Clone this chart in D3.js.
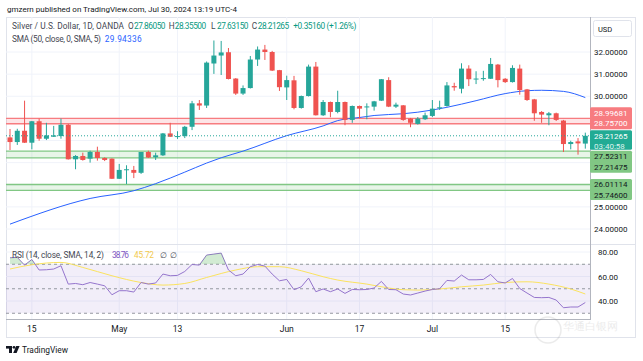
<!DOCTYPE html>
<html>
<head>
<meta charset="utf-8">
<script src="https://cdn.jsdelivr.net/npm/d3@7"></script>
<style>
  body { margin: 0; background: #fff; }
  text { font-family: Roboto, "Noto Sans", sans-serif; }
</style>
</head>
<body>
<svg id="chart" width="643" height="361"></svg>
<script>
// daily bars, Apr 10 - Jul 30 2024 (weekdays)
const dates = d3.timeDay.range(new Date(2024, 3, 10), new Date(2024, 6, 31))
  .filter(d => d.getDay() % 6 !== 0);

const open = [28.14,27.93,28.44,27.90,28.87,28.08,28.17,28.20,28.71,27.15,
  27.30,27.18,27.48,27.21,27.18,26.27,26.67,26.67,26.54,27.48,
  27.24,27.33,28.32,28.18,28.20,28.62,29.68,29.58,31.48,31.84,
  31.99,30.80,30.12,30.37,31.66,32.11,32.00,31.18,30.40,30.72,
  29.47,30.01,31.34,29.14,29.74,29.29,29.74,28.93,29.56,29.51,
  29.53,29.80,30.73,29.53,29.59,28.99,28.75,28.96,29.11,29.47,
  29.56,30.46,30.34,31.25,30.78,30.81,30.79,31.43,30.79,30.64,
  31.25,30.31,29.86,29.29,29.14,29.23,28.90,27.84,27.96,27.8605];
const high = [28.52,28.53,29.80,28.88,28.99,28.80,28.66,28.99,28.75,27.34,
  27.45,27.54,27.72,27.24,27.19,26.94,26.88,26.85,27.48,27.54,
  27.45,28.34,28.80,28.42,28.66,29.79,29.83,31.57,32.52,32.50,
  32.18,30.82,30.49,31.82,32.25,32.32,32.05,31.19,30.93,30.92,
  30.03,31.43,31.55,29.83,29.76,30.25,29.76,29.58,29.58,29.68,
  29.79,30.78,30.86,29.71,29.60,29.02,29.06,29.26,29.83,29.80,
  30.64,30.61,31.49,31.40,31.13,31.15,31.73,31.46,30.82,31.40,
  31.43,30.33,29.88,29.33,29.29,29.26,28.93,27.99,28.11,28.355];
const low = [27.57,27.80,27.89,27.60,27.99,28.02,28.16,28.08,27.14,26.70,
  27.09,27.00,27.09,27.07,26.26,26.26,26.03,26.30,26.49,27.21,
  27.12,27.30,28.16,28.07,28.11,28.47,29.38,29.47,31.01,30.96,
  30.76,30.06,30.06,30.35,31.37,31.64,31.14,30.24,29.83,29.41,
  29.44,29.99,29.13,29.11,29.05,29.23,28.69,28.80,28.99,28.96,
  29.35,29.79,29.51,29.47,28.89,28.60,28.72,28.93,29.06,29.38,
  29.53,30.25,30.13,30.46,30.55,30.70,30.78,30.40,30.60,30.62,
  30.07,29.79,28.89,28.80,28.69,28.88,27.48,27.60,27.36,27.6315];
const close = [27.93,28.44,27.90,28.87,28.08,28.23,28.23,28.71,27.15,27.30,
  27.12,27.48,27.21,27.12,26.27,26.67,26.70,26.54,27.48,27.23,
  27.33,28.32,28.17,28.20,28.62,29.68,29.58,31.52,31.84,31.98,
  30.78,30.12,30.37,31.66,32.11,32.00,31.16,30.41,30.73,29.47,
  30.01,31.34,29.14,29.74,29.29,29.74,28.93,29.56,29.44,29.54,
  29.77,30.77,29.53,29.62,28.93,28.80,28.99,29.14,29.44,29.50,
  30.49,30.40,31.25,30.77,30.80,30.82,31.46,30.73,30.64,31.28,
  30.28,29.83,29.23,29.17,29.23,28.93,27.84,27.93,27.87,28.21265];

// SMA 50 read at some bars (bar number, value)
const smaBar = [1,12,18,21,25,28,30,33,39,44,46,49,51,55,57,61,65,69,72,74,77,80];
const smaVal = [24.22,25.38,25.73,26.05,26.57,26.98,27.22,27.52,28.22,28.66,28.90,29.04,29.13,29.21,29.28,29.50,29.80,30.12,30.25,30.27,30.22,29.94];
const smaLast = "29.94336";

// RSI 14
const rsi = [75.3,75.6,69.3,73.9,65.3,65.5,66.1,68.8,53.8,54.3,
  53.3,55.1,53.8,52.4,45.1,48.4,48.4,47.3,55.1,53.8,
  54.7,62.0,60.6,60.9,64.1,69.8,69.3,77.5,78.3,79.1,
  65.3,60.6,62.0,68.0,69.8,68.5,62.0,56.5,57.6,49.2,
  51.6,58.7,47.6,49.8,47.6,49.8,46.2,49.4,49.2,49.4,
  50.6,56.0,49.4,49.2,45.7,44.9,46.5,48.1,49.4,50.0,
  56.8,56.3,61.2,57.3,57.3,57.6,61.7,55.7,54.7,58.4,
  50.2,46.5,42.9,42.7,42.9,40.8,34.5,35.1,35.1,38.76];
const rsiMaBar = [1,4,8,11,15,19,22,25,28,32,35,38,41,44,46,50,53,55,57,60,63,66,69,72,75,78,80];
const rsiMaVal = [66.1,69.6,71.5,67.4,60.6,55.1,53.0,54.3,59.2,65.3,68.0,68.0,64.7,59.8,57.1,53.8,50.6,49.2,48.9,49.8,51.6,53.0,55.1,55.7,53.8,49.8,45.72];

// horizontal zones
const zoneHigh = [28.99681, 27.52311, 26.01114];
const zoneLow  = [28.75700, 27.21475, 25.74600];
const zoneKind = ["res", "sup", "sup"];

const priceTicks = [24, 25, 26, 27, 28, 29, 30, 31, 32];
const rsiTicks = [40, 60, 80];
const timeTickDates = ["2024-04-15","2024-05-01","2024-05-13","2024-06-03","2024-06-17","2024-07-01","2024-07-15"];
const timeTickLabels = ["15","May","13","Jun","17","Jul","15"];

const UP = "#26a69a", DOWN = "#ef5350";
const L = 6, R = 590, T = 17, PB = 244, RB = 319;

const svg = d3.select("#chart");
const fmt = d3.timeFormat("%Y-%m-%d");
const dateKeys = dates.map(fmt);

const x = d3.scalePoint().domain(d3.range(dates.length)).range([10, 585.3]);
const y = d3.scaleLinear().domain([24, 32]).range([229, 52]);
const yr = d3.scaleLinear().domain([40, 80]).range([301, 252]);

// frame
svg.append("rect").attr("x", 6.5).attr("y", 17.5).attr("width", 629).attr("height", 320)
  .attr("fill", "#fff").attr("stroke", "#e0e3eb");

const defs = svg.append("defs");
defs.append("clipPath").attr("id", "cp").append("rect")
  .attr("x", L).attr("y", T).attr("width", R - L).attr("height", PB - T);
defs.append("clipPath").attr("id", "cr").append("rect")
  .attr("x", L).attr("y", PB).attr("width", R - L).attr("height", RB - PB);
defs.append("clipPath").attr("id", "ob").append("rect")
  .attr("x", L).attr("y", PB).attr("width", R - L).attr("height", yr(70) - PB);

// grid
const tickIdx = timeTickDates.map(d => dateKeys.indexOf(d));
svg.append("g").selectAll("line").data(tickIdx).join("line")
  .attr("x1", d => x(d)).attr("x2", d => x(d)).attr("y1", T).attr("y2", RB)
  .attr("stroke", "#f0f3fa");
const price = svg.append("g").attr("clip-path", "url(#cp)");
price.append("g").selectAll("line").data(priceTicks).join("line")
  .attr("x1", L).attr("x2", R).attr("y1", d => y(d)).attr("y2", d => y(d))
  .attr("stroke", "#f0f3fa");

// zones
zoneHigh.forEach((hv, i) => {
  const c = zoneKind[i] === "res" ? "#f77c80" : "#81c784";
  const f = zoneKind[i] === "res" ? "rgba(242,54,69,0.13)" : "rgba(76,175,80,0.13)";
  price.append("rect").attr("x", L).attr("width", R - L)
    .attr("y", y(hv)).attr("height", y(zoneLow[i]) - y(hv)).attr("fill", f);
  [hv, zoneLow[i]].forEach(v => price.append("line")
    .attr("x1", L).attr("x2", R).attr("y1", y(v)).attr("y2", y(v))
    .attr("stroke", c).attr("stroke-width", 1.3));
});

// SMA 50
price.append("path")
  .attr("d", d3.line().x((d, i) => x(smaBar[i] - 1)).y(d => y(d)).curve(d3.curveMonotoneX)(smaVal))
  .attr("fill", "none").attr("stroke", "#2962ff").attr("stroke-width", 1);

// candles
const bars = price.append("g").selectAll("g").data(d3.range(dates.length)).join("g");
bars.append("line")
  .attr("x1", i => x(i)).attr("x2", i => x(i))
  .attr("y1", i => y(high[i])).attr("y2", i => y(low[i]))
  .attr("stroke", i => close[i] >= open[i] ? UP : DOWN);
bars.append("rect")
  .attr("x", i => x(i) - 2.5).attr("width", 5)
  .attr("y", i => y(Math.max(open[i], close[i])))
  .attr("height", i => Math.max(1, Math.abs(y(open[i]) - y(close[i]))))
  .attr("fill", i => close[i] >= open[i] ? UP : DOWN);

// last price dotted line
const last = close[close.length - 1];
price.append("line").attr("x1", L).attr("x2", R).attr("y1", y(last)).attr("y2", y(last))
  .attr("stroke", UP).attr("stroke-dasharray", "1,2");

// RSI pane
const rp = svg.append("g").attr("clip-path", "url(#cr)");
rp.append("g").selectAll("line").data(rsiTicks).join("line")
  .attr("x1", L).attr("x2", R).attr("y1", d => yr(d)).attr("y2", d => yr(d))
  .attr("stroke", "#f0f3fa");
rp.append("rect").attr("x", L).attr("width", R - L)
  .attr("y", yr(70)).attr("height", yr(30) - yr(70)).attr("fill", "rgba(126,87,194,0.1)");
[70, 50, 30].forEach(v => rp.append("line")
  .attr("x1", L).attr("x2", R).attr("y1", yr(v)).attr("y2", yr(v))
  .attr("stroke", "#9598a1").attr("stroke-dasharray", "3,3"));
svg.append("path").attr("clip-path", "url(#ob)")
  .attr("d", d3.area().x((d, i) => x(i)).y0(yr(70)).y1(d => yr(d))(rsi))
  .attr("fill", "rgba(76,175,80,0.25)");
rp.append("path")
  .attr("d", d3.line().x((d, i) => x(rsiMaBar[i] - 1)).y(d => yr(d)).curve(d3.curveMonotoneX)(rsiMaVal))
  .attr("fill", "none").attr("stroke", "#fbe35e").attr("stroke-width", 1);
rp.append("path")
  .attr("d", d3.line().x((d, i) => x(i)).y(d => yr(d))(rsi))
  .attr("fill", "none").attr("stroke", "#9575cd").attr("stroke-width", 1);

// separators
svg.append("line").attr("x1", L).attr("x2", 635).attr("y1", PB + 0.5).attr("y2", PB + 0.5).attr("stroke", "#e0e3eb");
svg.append("line").attr("x1", L).attr("x2", R).attr("y1", RB + 0.5).attr("y2", RB + 0.5).attr("stroke", "#b2b5be");
svg.append("line").attr("x1", R + 0.5).attr("x2", R + 0.5).attr("y1", T).attr("y2", RB + 1).attr("stroke", "#b2b5be");

// label boxes on price axis
const tealTop = y(last) - 5.5;
const boxes = [
  { top: y(zoneLow[0]) + 5.5 - 22, h: 22, fill: "#f77c80", lines: [zoneHigh[0], zoneLow[0]].map(v => v.toFixed(5)), col: ["#fff", "#fff"] },
  { top: tealTop, h: 19.5, fill: "#22ab94", lines: [last.toFixed(5), "03:40:58"], col: ["#fff", "#dff3ef"] },
  { top: tealTop + 20.5, h: 22, fill: "#81c784", lines: [zoneHigh[1], zoneLow[1]].map(v => v.toFixed(5)), col: ["#131722", "#131722"] },
  { top: y(zoneHigh[2]) - 5.5, h: 21, fill: "#81c784", lines: [zoneHigh[2], zoneLow[2]].map(v => v.toFixed(5)), col: ["#131722", "#131722"] }
];
const hidden = v => boxes.some(b => y(v) > b.top - 4 && y(v) < b.top + b.h + 4);

// price axis
const pa = svg.append("g").attr("transform", `translate(${R},0)`)
  .call(d3.axisRight(y).tickValues(priceTicks.filter(v => !hidden(v)))
    .tickSize(0).tickPadding(4).tickFormat(d3.format(".5f")));
pa.select(".domain").remove();
pa.selectAll("text").attr("font-size", 8).attr("fill", "#131722").attr("font-family", "Roboto");
const ra = svg.append("g").attr("transform", `translate(${R},0)`)
  .call(d3.axisRight(yr).tickValues(rsiTicks).tickSize(0).tickPadding(8).tickFormat(d3.format(".2f")));
ra.select(".domain").remove();
ra.selectAll("text").attr("font-size", 8).attr("fill", "#131722").attr("font-family", "Roboto");

boxes.forEach(b => {
  svg.append("rect").attr("x", R).attr("y", b.top).attr("width", 42).attr("height", b.h)
    .attr("rx", 1.5).attr("fill", b.fill);
  b.lines.forEach((s, k) => svg.append("text").attr("x", R + 4).attr("y", b.top + 8.3 + k * 10.5)
    .attr("font-size", 8).attr("fill", b.col[k]).text(s));
});

// time axis
svg.append("g").selectAll("text").data(tickIdx).join("text")
  .attr("x", d => x(d)).attr("y", 332).attr("text-anchor", "middle")
  .attr("font-size", 8.5).attr("fill", "#131722").text((d, i) => timeTickLabels[i]);

// USD badge
svg.append("rect").attr("x", 593.5).attr("y", 20.5).attr("width", 38).attr("height", 16)
  .attr("rx", 2).attr("fill", "#fff").attr("stroke", "#e0e3eb");
svg.append("text").attr("x", 598).attr("y", 31.5).attr("font-size", 7.5).attr("fill", "#131722").text("USD");

// header and legends (text spans stretched to the reference widths)
function span(parent, x0, width, str, col) {
  return parent.append("tspan").attr("x", x0).attr("textLength", width)
    .attr("lengthAdjust", "spacing").attr("fill", col).text(str);
}
svg.append("text").attr("x", 7).attr("y", 12).attr("font-size", 8).attr("fill", "#131722")
  .attr("textLength", 230).attr("lengthAdjust", "spacing")
  .text("gmzern published on TradingView.com, Jul 30, 2024 13:19 UTC-4");

const GRAY = "#434651", GREEN = "#089981";
const lg = svg.append("text").attr("y", 29).attr("font-size", 8.3);
span(lg, 12, 112, "Silver / U.S. Dollar, 1D, OANDA", GRAY);
const ohlc = [["O", open, 128], ["H", high, 168.7], ["L", low, 211], ["C", close, 251.7]];
ohlc.forEach(([k, arr, px]) => {
  lg.append("tspan").attr("x", px).attr("fill", GRAY).text(k);
  span(lg, px + 6, 31.5, arr[arr.length - 1].toFixed(5), GREEN);
});
span(lg, 293.3, 63, "+0.35160 (+1.26%)", GREEN);

const lg2 = svg.append("text").attr("y", 42).attr("font-size", 8.3);
span(lg2, 12, 89, "SMA (50, close, 0, SMA, 5)", GRAY);
span(lg2, 104.7, 37, smaLast, "#2962ff");

const lg3 = svg.append("text").attr("y", 257.5).attr("font-size", 8.3);
span(lg3, 12, 92, "RSI (14, close, SMA, 14, 2)", GRAY);
span(lg3, 112, 17, rsi[rsi.length - 1].toFixed(2), "#7e57c2");
span(lg3, 134, 20, rsiMaVal[rsiMaVal.length - 1].toFixed(2), "#f2c94c");
lg3.append("tspan").attr("x", 160).attr("fill", GRAY).text("\u2205");
lg3.append("tspan").attr("x", 170).attr("fill", GRAY).text("\u2205");

// TradingView logo
const logo = svg.append("g").attr("fill", "#131722");
logo.append("rect").attr("x", 6).attr("y", 346).attr("width", 6).attr("height", 2.6);
logo.append("rect").attr("x", 9).attr("y", 346).attr("width", 3).attr("height", 7);
logo.append("circle").attr("cx", 14).attr("cy", 347.3).attr("r", 1.4);
logo.append("path").attr("d", "M16.2,346 L19.6,346 L16.6,353 L13.2,353 Z");
svg.append("text").attr("x", 22).attr("y", 353).attr("font-size", 9.5).attr("fill", "#131722")
  .attr("textLength", 46).attr("lengthAdjust", "spacingAndGlyphs").text("TradingView");

// faint watermark
const wm = svg.append("g").attr("opacity", 0.16);
wm.append("circle").attr("cx", 548).attr("cy", 330).attr("r", 13).attr("fill", "none").attr("stroke", "#888").attr("stroke-width", 1.5);
wm.append("text").attr("x", 563).attr("y", 330).attr("font-size", 11).attr("fill", "#888")
  .attr("font-family", "Noto Sans CJK SC").text("华通白银网");
</script>
</body>
</html>
